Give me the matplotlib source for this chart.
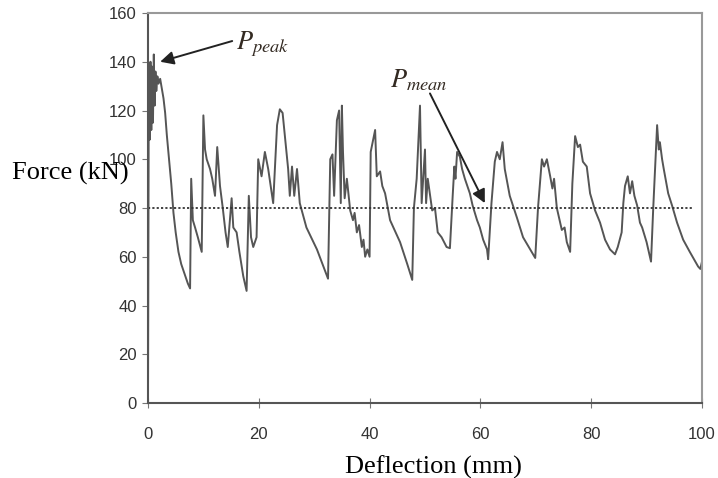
import matplotlib
matplotlib.use("Agg")
import matplotlib.pyplot as plt
import numpy as np

# Force-deflection record
deflection = [0.0, 0.15, 0.3, 0.45, 0.6, 0.75, 0.9, 1.05, 1.2, 1.35, 1.5, 1.7, 1.9, 2.2, 2.5, 2.8,
              3.1, 3.4, 3.8, 4.2, 4.6, 5.0, 5.5, 6.0, 6.6, 7.2, 7.6,
              7.8, 8.1, 8.5, 9.0, 9.7,
              10.0, 10.3, 10.6, 11.2, 11.6, 12.1, 12.5, 13.0, 13.5, 14.0, 14.4, 15.1, 15.4, 16.0, 16.5, 17.2, 17.8,
              18.2, 18.6, 19.0, 19.6, 19.9, 20.5, 21.1, 21.7, 22.4, 22.6, 23.3, 23.8, 24.3, 25.3, 25.6, 26.0,
              26.4, 26.9, 27.4, 28.6, 30.5, 32.5,
              32.9, 33.3, 33.6, 34.1, 34.5, 34.8, 35.0, 35.2, 35.5, 35.9, 36.5, 37.0, 37.3, 37.7, 38.1, 38.6,
              38.9, 39.2, 39.6, 40.0,
              40.2, 41.0, 41.3, 41.9, 42.3, 42.8, 43.7, 45.5, 46.8, 47.7,
              48.0, 48.5, 49.1, 49.4, 50.0, 50.2, 50.5, 51.3, 51.8, 52.3, 53.0, 53.9, 54.5,
              55.0, 55.3, 55.5, 55.8, 56.3, 56.7, 57.2, 58.1, 58.6, 59.4, 59.9, 60.5, 61.2, 61.4,
              62.0, 62.6, 63.0, 63.5, 64.0, 64.4, 65.3, 66.6, 67.7, 69.0, 69.9,
              70.4, 71.1, 71.5, 72.0, 72.6, 73.0, 73.3, 73.8, 74.7, 75.2, 75.6, 76.2,
              76.6, 77.1, 77.6, 78.0, 78.5, 79.2, 79.8, 80.7, 81.6, 82.5, 83.4, 84.3, 84.8, 85.5,
              85.8, 86.1, 86.6, 87.0, 87.4, 87.8, 88.3, 88.8, 89.2, 90.0, 90.8,
              91.2, 91.5, 91.9, 92.2, 92.4, 92.8, 93.1, 93.9, 94.6, 95.5, 96.6, 97.8, 99.3, 99.7, 100.0]
force = [0, 135, 108, 140, 112, 138, 115, 143, 122, 136, 128, 134, 131, 133, 129, 125,
         119, 110, 100, 90, 78, 70, 62, 57, 53, 49, 47,
         92, 75, 72, 68, 62,
         118, 104, 100, 96, 92, 85, 105, 89, 80, 70, 64, 84, 72, 70, 62, 52, 46,
         85, 68, 64, 68, 100, 93, 103, 96, 85, 82, 114, 120.5, 119, 96, 85, 97,
         85, 96, 82, 72, 63, 51,
         100, 102, 85, 116, 120, 82, 122, 103, 84, 92, 79, 75, 78, 70, 73, 64,
         67, 60, 63, 60,
         103, 112, 93, 95, 89, 86, 75, 66, 57, 50.5,
         80, 92, 122, 82, 104, 82, 92, 79, 80, 70, 68, 64, 63.5,
         85, 97, 92, 103, 101, 96, 92, 86, 81, 75, 72, 67, 63, 59,
         82, 99, 103, 100, 107, 96, 85, 76, 68, 63, 59.5,
         80, 100, 97, 100, 93, 88, 92, 80, 71, 72, 66, 62,
         90, 109.5, 105, 106, 99, 97, 86, 79, 74, 67, 63, 61, 64, 70,
         82, 89, 93, 86, 91, 85, 81, 74, 72, 66, 58,
         80, 95, 114, 104, 107, 100, 96, 86, 81, 74, 67, 62, 56, 55, 58]

p_mean = 80
mean_span = [0, 98.5]

x_ticks = [0, 20, 40, 60, 80, 100]
y_ticks = [0, 20, 40, 60, 80, 100, 120, 140, 160]

plt.rcParams.update({
    "font.family": "Liberation Sans",
    "mathtext.fontset": "stix",
})

fig = plt.figure(figsize=(7.18, 4.78), dpi=100)
ax = fig.add_axes([0.2061, 0.1569, 0.7716, 0.8159])

ax.plot(deflection, force, color="#555555", linewidth=1.4)
ax.plot(mean_span, [p_mean, p_mean], color="#333333", linewidth=1.3, linestyle=(0, (1.2, 1.2)))

ax.set_xlim(0, 100)
ax.set_ylim(0, 160)
ax.set_xticks(x_ticks)
ax.set_yticks(y_ticks)
ax.tick_params(axis="both", labelsize=12, labelcolor="#333333", color="#777777")
ax.tick_params(axis="y", direction="out", length=4, pad=4)
ax.tick_params(axis="x", direction="inout", length=7, pad=14)

for side in ["top", "right"]:
    ax.spines[side].set_color("#999999")
    ax.spines[side].set_linewidth(1.5)
for side in ["left", "bottom"]:
    ax.spines[side].set_color("#555555")
    ax.spines[side].set_linewidth(1.5)

ax.set_xlabel("Deflection (mm)", family="Liberation Serif", fontsize=19, color="black")
ax.xaxis.set_label_coords(0.515, -0.135)

fig.text(12 / 718, 0.638, "Force (kN)", family="Liberation Serif", fontsize=19,
         ha="left", va="center")

arrow = dict(arrowstyle="-|>", color="#222222", lw=1.4, mutation_scale=20, shrinkA=0, shrinkB=0)
ax.annotate("", xy=(2.2, 140), xytext=(15.2, 148.5), arrowprops=arrow)
ax.text(15.8, 147, r"$P_{peak}$", fontsize=19, color="#332a22", va="center", ha="left")

ax.annotate("", xy=(60.8, 82), xytext=(50.9, 127), arrowprops=arrow)
ax.text(43.6, 132.5, r"$P_{mean}$", fontsize=19, color="#332a22", va="center", ha="left")

fig.savefig("out.png", dpi=100)
